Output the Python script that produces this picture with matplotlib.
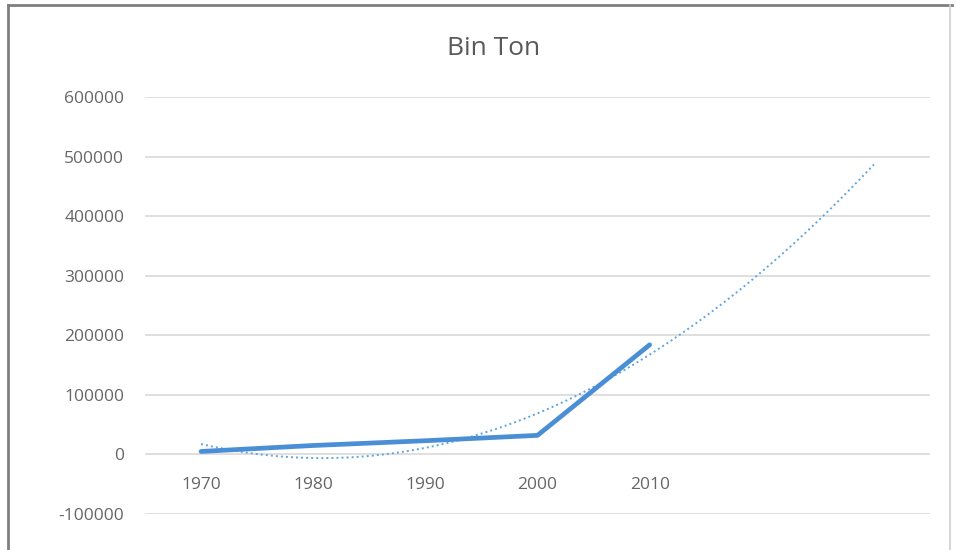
import matplotlib.pyplot as plt
import numpy as np
from matplotlib.lines import Line2D

# data
years = ['1970', '1980', '1990', '2000', '2010']
bin_ton = [5000, 15000, 23000, 32000, 184000]
forecast_periods = 2  # trendline runs 2 periods forward

plt.rcParams['font.family'] = ['Open Sans', 'DejaVu Sans']

fig = plt.figure(figsize=(9.57, 5.5), dpi=100)
ax = fig.add_axes([145 / 957, 36 / 550, 785 / 957, 417 / 550])

x = np.arange(len(years))
ax.plot(x, bin_ton, color='#4a8fd6', lw=3.4, solid_capstyle='round', zorder=3)

# polynomial (order 2) trendline, like Excel
coef = np.polyfit(x, bin_ton, 2)
xt = np.linspace(0, len(years) - 1 + forecast_periods, 200)
ax.plot(xt, np.polyval(coef, xt), color='#5ea5e0', lw=1.4, ls=(0, (1, 1.6)), zorder=2)

ax.set_xlim(-0.5, len(years) - 1 + forecast_periods + 0.5)
ax.set_ylim(-100000, 600000)
ax.set_yticks(np.arange(-100000, 600001, 100000))
ax.set_yticklabels([str(v) for v in range(-100000, 600001, 100000)])
ax.set_xticks([])
ax.grid(axis='y', color='#d9d9d9', lw=1.2)
ax.set_axisbelow(True)
for s in ax.spines.values():
    s.set_visible(False)
ax.tick_params(axis='y', length=0, pad=15, labelsize=12.5, labelcolor='#666666')

# category labels sit just under the zero line
for i, lab in enumerate(years):
    ax.annotate(lab, xy=(i, 0), xytext=(0, -22), textcoords='offset points',
                ha='center', va='center', fontsize=12.5, color='#666666')

fig.text(0.516, 0.912, 'Bin Ton', ha='center', va='center', fontsize=19, color='#595959')

# outer chart border: dark on left/top, faint on right
fig.add_artist(Line2D([8 / 957, 8 / 957], [0, 545 / 550], transform=fig.transFigure,
                      color='#7f7f7f', lw=2))
fig.add_artist(Line2D([8 / 957, 952 / 957], [545 / 550, 545 / 550], transform=fig.transFigure,
                      color='#7f7f7f', lw=2))
fig.add_artist(Line2D([950 / 957, 950 / 957], [0, 545 / 550], transform=fig.transFigure,
                      color='#d0d0d0', lw=1.2))

fig.savefig('out.png', dpi=100)
